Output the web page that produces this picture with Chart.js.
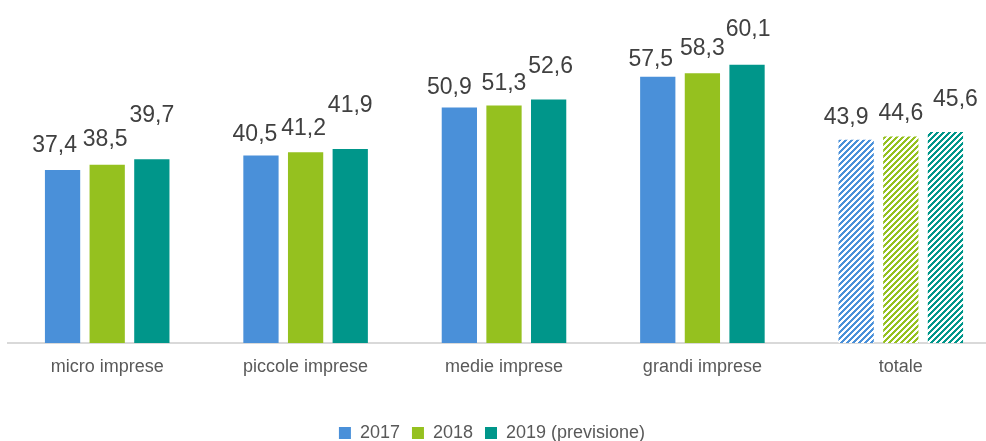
<!DOCTYPE html>
<html lang="it">
<head>
<meta charset="utf-8">
<title>Imprese</title>
<script src="https://cdn.jsdelivr.net/npm/chart.js@4.4.1/dist/chart.umd.min.js"></script>
<style>
    html, body { margin: 0; padding: 0; background: #ffffff; overflow: hidden; }
    .chart-container { position: relative; width: 1000px; height: 460px; }
</style>
</head>
<body>
<div class="chart-container">
    <canvas id="myChart"></canvas>
</div>
<script>
// categorie e valori per anno
const categories = ['micro imprese', 'piccole imprese', 'medie imprese', 'grandi imprese', 'totale'];
const years = ['2017', '2018', '2019 (previsione)'];
const values2017 = [37.4, 40.5, 50.9, 57.5, 43.9];
const values2018 = [38.5, 41.2, 51.3, 58.3, 44.6];
const values2019 = [39.7, 41.9, 52.6, 60.1, 45.6];

const colors = ['#4a90d9', '#95c11f', '#00968a'];

// spostamento delle etichette rispetto alla cima della barra (px)
const labelLift = [
    [24, 21, 20, 17, 22],
    [25, 24, 22, 24, 23],
    [44, 43, 33, 35, 32]
];
const labelShift = [
    [-8, -6, -10, -7, -10],
    [-2, -2, 0, 0, 0],
    [0, 0, 2, 1, 10]
];

// tratteggio diagonale per la colonna "totale"
const makeStripes = (color) => {
    const size = 6;
    const c = document.createElement('canvas');
    c.width = size;
    c.height = size;
    const g = c.getContext('2d');
    g.fillStyle = '#ffffff';
    g.fillRect(0, 0, size, size);
    g.fillStyle = color;
    for (let x = 0; x < size; x++) {
        for (let y = 0; y < size; y++) {
            if ((x + y) % size < 3) g.fillRect(x, y, 1, 1);
        }
    }
    return g.createPattern(c, 'repeat');
}

const stripes = colors.map(makeStripes);

const makeDataset = (label, values, i) => ({
    label: label,
    data: values,
    backgroundColor: (ctx) => ctx.dataIndex === 4 ? stripes[i] : colors[i],
    borderWidth: 0,
    barPercentage: 0.79,
    categoryPercentage: 0.675
});

// valori sopra le barre, con la virgola decimale
const valueLabels = {
    id: 'valueLabels',
    afterLayout(chart) {
        // legenda un po' più a sinistra
        chart.legend.left -= 12;
        chart.legend.right -= 12;
    },
    afterDatasetsDraw(chart) {
        const ctx = chart.ctx;
        ctx.save();
        ctx.font = '23px "Liberation Sans", Arial, sans-serif';
        ctx.fillStyle = '#404040';
        ctx.textAlign = 'center';
        ctx.textBaseline = 'middle';
        chart.data.datasets.forEach((ds, i) => {
            chart.getDatasetMeta(i).data.forEach((bar, j) => {
                const text = ds.data[j].toFixed(1).replace('.', ',');
                ctx.fillText(text, bar.x + labelShift[i][j], bar.y - labelLift[i][j]);
            });
        });
        ctx.restore();
    }
};

const ctx = document.getElementById('myChart').getContext('2d');

var myChart = new Chart(ctx, {
    type: 'bar',
    data: {
        labels: categories,
        datasets: [
            makeDataset(years[0], values2017, 0),
            makeDataset(years[1], values2018, 1),
            makeDataset(years[2], values2019, 2)
        ]
    },
    options: {
        responsive: true,
        maintainAspectRatio: false,
        animation: false,
        layout: {
            padding: { top: 19, left: 8, right: 0, bottom: 8 }
        },
        scales: {
            x: {
                grid: { display: false, drawTicks: false },
                border: { display: true, color: '#d9d9d9', width: 2 },
                ticks: {
                    padding: 13,
                    color: '#595959',
                    font: { family: '"Liberation Sans", Arial, sans-serif', size: 18 }
                },
                afterFit: (scale) => { scale.height = 69; }
            },
            y: {
                display: false,
                min: 0,
                max: 70
            }
        },
        plugins: {
            legend: {
                position: 'bottom',
                labels: {
                    boxWidth: 12,
                    boxHeight: 12,
                    padding: 12,
                    color: '#595959',
                    font: { family: '"Liberation Sans", Arial, sans-serif', size: 18 }
                }
            },
            tooltip: { enabled: false }
        }
    },
    plugins: [valueLabels]
});
</script>
</body>
</html>
